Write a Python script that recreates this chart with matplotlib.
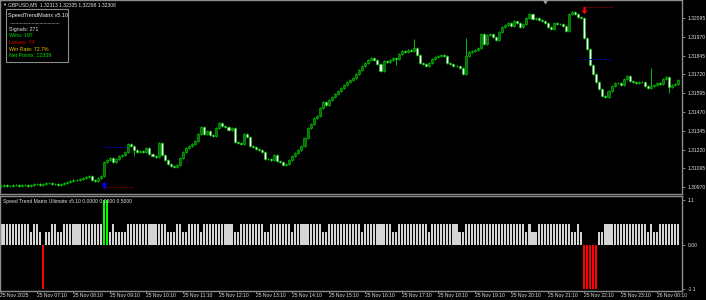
import matplotlib
matplotlib.use("Agg")
import matplotlib.pyplot as plt
from matplotlib.patches import Rectangle
from matplotlib.path import Path

# M5 closes, one per bar
closes = [
    1.30978, 1.30985, 1.30978, 1.30978, 1.30985, 1.30985, 1.30978, 1.30985, 1.30985, 1.30978,
    1.30985, 1.30991, 1.30991, 1.30985, 1.30991, 1.30998, 1.30998, 1.30991, 1.30991, 1.30985,
    1.30991, 1.30998, 1.31005, 1.31011, 1.31018, 1.31018, 1.31025, 1.31031, 1.31038, 1.31045,
    1.31018, 1.31011, 1.31031, 1.31045, 1.31138, 1.31151, 1.31164, 1.31138, 1.31158, 1.31178,
    1.31184, 1.31204, 1.31257, 1.31244, 1.31218, 1.31204, 1.31211, 1.31204, 1.31231, 1.31191,
    1.31178, 1.31171, 1.31264, 1.31184, 1.31151, 1.31124, 1.31111, 1.31104, 1.31118, 1.31164,
    1.31204, 1.31231, 1.31244, 1.31257, 1.31277, 1.31324, 1.31370, 1.31324, 1.31344, 1.31317,
    1.31311, 1.31363, 1.31397, 1.31377, 1.31370, 1.31350, 1.31363, 1.31271, 1.31264, 1.31257,
    1.31324, 1.31304, 1.31244, 1.31237, 1.31224, 1.31218, 1.31204, 1.31158, 1.31158, 1.31151,
    1.31184, 1.31144, 1.31138, 1.31118, 1.31124, 1.31151, 1.31178, 1.31198, 1.31218, 1.31244,
    1.31297, 1.31363, 1.31390, 1.31430, 1.31444, 1.31497, 1.31537, 1.31517, 1.31550, 1.31570,
    1.31590, 1.31610, 1.31630, 1.31650, 1.31670, 1.31683, 1.31696, 1.31723, 1.31750, 1.31776,
    1.31796, 1.31816, 1.31829, 1.31816, 1.31789, 1.31743, 1.31809, 1.31803, 1.31816, 1.31829,
    1.31823, 1.31856, 1.31876, 1.31869, 1.31883, 1.31876, 1.31896, 1.31849, 1.31796, 1.31789,
    1.31776, 1.31796, 1.31823, 1.31836, 1.31843, 1.31849, 1.31843, 1.31796, 1.31789, 1.31776,
    1.31776, 1.31763, 1.31723, 1.31843, 1.31869, 1.31876, 1.31883, 1.31896, 1.31989, 1.31922,
    1.31982, 1.31989, 1.31969, 1.31949, 1.32002, 1.32035, 1.32049, 1.32062, 1.32042, 1.32075,
    1.32062, 1.32035, 1.32055, 1.32095, 1.32122, 1.32089, 1.32095, 1.32082, 1.32075, 1.32062,
    1.32035, 1.32022, 1.32062, 1.32055, 1.32055, 1.32042, 1.32009, 1.32122, 1.32135, 1.32122,
    1.32102, 1.32095, 1.31962, 1.31889, 1.31783, 1.31723, 1.31670, 1.31623, 1.31577, 1.31570,
    1.31610, 1.31643, 1.31663, 1.31663, 1.31650, 1.31690, 1.31710, 1.31676, 1.31670, 1.31663,
    1.31670, 1.31670, 1.31643, 1.31630, 1.31643, 1.31650, 1.31663, 1.31656, 1.31690, 1.31703,
    1.31636, 1.31650, 1.31656, 1.31683,
]
first_open = 1.30978
wick = 0.00007
# bars with longer shadows: index -> (upper, lower)
long_wicks = {44: (0.0, 0.0003), 130: (0.0, 0.0003), 136: (0.0005, 0.0), 153: (0.0011, 0.0),
              214: (0.0011, 0.0), 220: (0.0, 0.0003)}

# indicator histogram as (value, number of bars)
hist_runs = [
    (0.5, 10), (0.3, 1), (0.5, 2), (0.3, 1), (-1.1, 1), (0.3, 2), (0.5, 2), (0.3, 2),
    (0.5, 13), (1.1, 2), (0.3, 1), (0.5, 1), (0.3, 4), (0.5, 13), (0.3, 3), (0.5, 2),
    (0.3, 2), (0.5, 4), (0.3, 1), (0.5, 10), (0.3, 2), (0.5, 8), (0.3, 2), (0.5, 7),
    (0.3, 1), (0.5, 9), (0.3, 2), (0.5, 11), (0.3, 1), (0.5, 9), (0.3, 2), (0.5, 10),
    (0.3, 1), (0.5, 9), (0.3, 2), (0.5, 20), (0.3, 1), (0.5, 1), (0.3, 2), (0.5, 11),
    (0.3, 2), (0.5, 1), (0.3, 1), (-1.1, 5), (0.3, 2), (0.5, 14), (0.3, 1), (0.5, 1),
    (0.3, 2), (0.5, 7),
]

# signals: bar, arrow price, stop line, target line
buy_signal = (34, 1.30985, 1.30974, 1.31238)
sell_signal = (192, 1.32148, 1.32168, 1.31823)

price_ticks = [1.32095, 1.31970, 1.31845, 1.31720, 1.31595,
               1.31470, 1.31345, 1.31220, 1.31095, 1.30970]
time_labels = ["25 Nov 2025"] + [f"25 Nov {h:02d}:10" for h in range(7, 24)] + ["26 Nov 00:10"]
time_bars = [0] + list(range(12, 217, 12))

stats = [("Signals: 271", "#e8e8e8"), ("Wins: 197", "#00e000"), ("Losses: 74", "#e00000"),
         ("Win Rate: 72.7%", "#e6c200"), ("Net Points: 12339", "#00e000")]

plt.rcParams['font.family'] = ['Liberation Sans', 'DejaVu Sans']

W, H = 706, 300
fig = plt.figure(figsize=(W / 100, H / 100), dpi=100, facecolor='black')


def px_axes(x0, y0, x1, y1):
    return fig.add_axes([x0 / W, 1 - y1 / H, (x1 - x0) / W, (y1 - y0) / H])


ax = px_axes(0, 0, 682, 194)
ax2 = px_axes(0, 196, 682, 291)
xlim = (-0.5 / 3.04, 681.5 / 3.04)

for a in (ax, ax2):
    a.set_facecolor('black')
    a.set_xlim(*xlim)
    for s in a.spines.values():
        s.set_color('#8c8c8c')
        s.set_linewidth(1.0)
    a.yaxis.tick_right()
    a.tick_params(axis='y', colors='#9a9a9a', labelcolor='#e0e0e0', labelsize=3.6,
                  length=2.5, width=0.6, pad=1.5)

# candles
opens = [first_open] + closes[:-1]
for i, (o, c) in enumerate(zip(opens, closes)):
    up, dn = long_wicks.get(i, (0.0, 0.0))
    hi = max(o, c) + wick + up
    lo = min(o, c) - wick - dn
    ax.vlines(i, lo, hi, color='#00c000', linewidth=0.7, zorder=2)
    body = max(abs(c - o), 0.00002)
    fill = '#0a6a0a' if c > o else '#ffffff'
    ax.bar(i, body, bottom=min(o, c), width=0.66, color=fill,
           edgecolor='#00d000', linewidth=0.4, zorder=3)

ax.set_ylim(1.30925, 1.32215)
ax.set_yticks(price_ticks)
ax.set_yticklabels([f"{p:.5f}" for p in price_ticks])
ax.set_xticks([])

# arrows and stop / target lines
arrow = Path([(-0.3, -1), (0.3, -1), (0.3, 0), (0.8, 0), (0, 1), (-0.8, 0), (-0.3, 0), (-0.3, -1)])
down_arrow = Path([(x, -y) for x, y in arrow.vertices])
bi, bp, bsl, btp = buy_signal
ax.scatter([bi], [bp], marker=arrow, s=28, color='#0000ff', zorder=5, linewidths=0)
ax.hlines(bsl, bi, bi + 9.5, colors='#a00000', linestyles=(0, (1, 1)), linewidth=0.8, zorder=4)
ax.hlines(btp, bi, bi + 7.5, colors='#0000c0', linestyles=(0, (3, 2)), linewidth=0.7, zorder=4)
si, sp, ssl, stp = sell_signal
ax.scatter([si], [sp], marker=down_arrow, s=28, color='#ff0000', zorder=5, linewidths=0)
ax.hlines(ssl, si, si + 9.5, colors='#a00000', linestyles=(0, (1, 1)), linewidth=0.8, zorder=4)
ax.hlines(stp, si, si + 9.5, colors='#0000c0', linestyles=(0, (3, 2)), linewidth=0.7, zorder=4)
ax.scatter([179], [1.32210], marker='v', s=8, color='#a0a0a0', zorder=5, clip_on=False)

# indicator window
hist_values = []
for v, n in hist_runs:
    hist_values += [v] * n
colors = ['#00ff00' if v > 1 else '#ff0000' if v < 0 else '#d4d4d4' for v in hist_values]
ax2.bar(range(len(hist_values)), hist_values, width=0.7, color=colors, linewidth=0)
ax2.set_ylim(-1.15, 1.2)
ax2.set_yticks([1.1, 0.0, -1.1])
ax2.set_yticklabels(['1.1', '0.00', '-1.1'])
ax2.set_xticks(time_bars)
ax2.set_xticklabels(time_labels, ha='left')
ax2.tick_params(axis='x', colors='#9a9a9a', labelcolor='#e0e0e0', labelsize=3.6,
                length=1.5, width=0.6, pad=0.2)

# overlay in pixel coordinates for the texts and the stats box
ov = fig.add_axes([0, 0, 1, 1])
ov.set_xlim(0, W)
ov.set_ylim(H, 0)
ov.axis('off')
ov.patch.set_alpha(0)

ov.text(2, 4.5, "\u25bc", color='#e0e0e0', fontsize=3, va='center', ha='left')
ov.text(8, 4.5, "GBPUSD,M5  1.32313 1.32335 1.32298 1.32308", color='#e0e0e0',
        fontsize=3.6, va='center', ha='left')
ov.text(3, 201, "Speed Trend Matrix Ultimate v5.10 0.0000 0.0000 0.5000", color='#e0e0e0',
        fontsize=3.6, va='center', ha='left')

ov.add_patch(Rectangle((5.5, 8.5), 62.5, 53.5, facecolor='black', edgecolor='#8c8c8c',
                       linewidth=0.8))
ov.text(8, 15, "SpeedTrendMatrix v5.10", color='#f0f0f0', fontsize=4, va='center', ha='left')
ov.plot([10, 59], [22.5, 22.5], color='#8c8c8c', linewidth=0.6, linestyle=(0, (1, 0.6)))
for k, (txt, col) in enumerate(stats):
    ov.text(9, 29 + k * 6.7, txt, color=col, fontsize=3.8, va='center', ha='left')

fig.savefig("out.png", dpi=100, facecolor='black')
